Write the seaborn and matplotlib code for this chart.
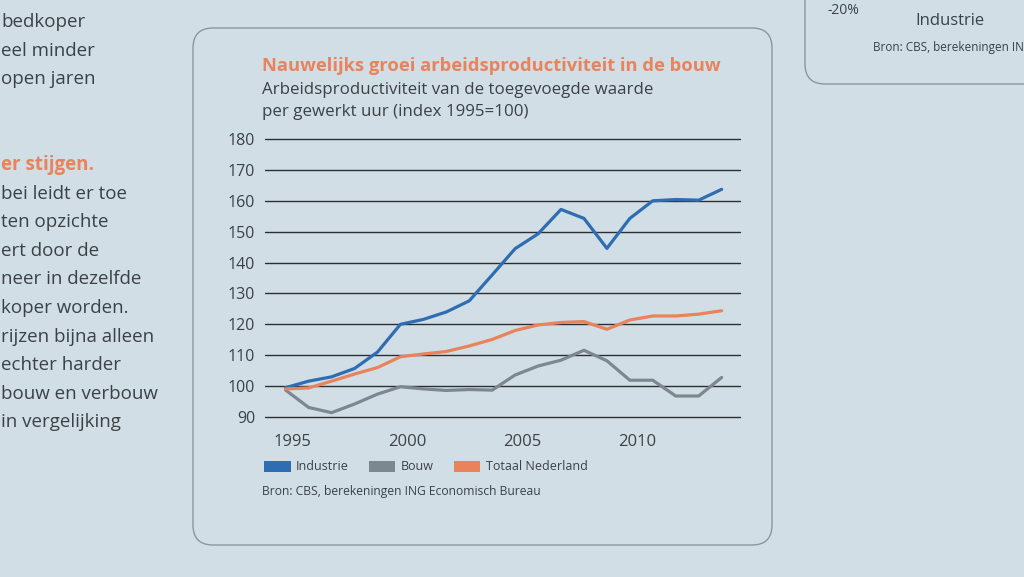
import pandas as pd
import matplotlib.pyplot as plt
import seaborn as sns
from matplotlib.patches import FancyBboxPatch, Patch
from matplotlib.transforms import ScaledTranslation
# ========================================================================================================================================
years = list(range(1995, 2015))
industrie = [99.5, 101.6, 103.0, 105.7, 111.0, 120.0, 121.6, 124.0, 127.6, 136.0,
             144.5, 149.3, 157.2, 154.3, 144.6, 154.3, 160.0, 160.4, 160.2, 163.7]
bouw = [98.7, 93.1, 91.4, 94.2, 97.4, 99.8, 99.1, 98.6, 98.9, 98.7,
        103.6, 106.5, 108.4, 111.6, 108.2, 101.9, 101.9, 96.8, 96.8, 102.8]
totaal = [99.1, 99.4, 101.6, 103.9, 106.0, 109.5, 110.4, 111.2, 113.0, 115.1,
          118.0, 119.8, 120.6, 120.9, 118.4, 121.4, 122.7, 122.7, 123.3, 124.4]
series_names = ["Industrie", "Bouw", "Totaal Nederland"]
x_ticks = [1995, 2000, 2005, 2010]
y_ticks = list(range(90, 181, 10))

left_lines = ["bedkoper", "eel minder", "open jaren", "", "", "er stijgen.", "bei leidt er toe",
              "ten opzichte", "ert door de", "neer in dezelfde", "koper worden.",
              "rijzen bijna alleen", "echter harder", "bouw en verbouw", "in vergelijking"]
# ========================================================================================================================================
df = pd.DataFrame({"jaar": years * 3,
                   "index": industrie + bouw + totaal,
                   "reeks": [series_names[0]] * 20 + [series_names[1]] * 20 + [series_names[2]] * 20})

BG = "#d1dee6"
INK = "#3b4146"
colors = {"Industrie": "#2f6db3", "Bouw": "#7d888e", "Totaal Nederland": "#e8835b"}

sns.set_style("white")
plt.rcParams['font.family'] = ['Open Sans', 'DejaVu Sans']

fig = plt.figure(figsize=(10.24, 5.77), dpi=100)
fig.patch.set_facecolor(BG)


def px(x, y):
    # pixel coords (top-left origin) -> inches
    return x / 100, (577 - y) / 100


# chart box
x0, y0 = px(193, 545)
box = FancyBboxPatch((x0 + 0.2, y0 + 0.2), (772 - 193) / 100 - 0.4, (545 - 28) / 100 - 0.4,
                     boxstyle="round,pad=0.2", transform=fig.dpi_scale_trans,
                     facecolor="none", edgecolor="#8a979e", linewidth=1.0)
fig.add_artist(box)

# piece of neighbouring box top right
x1, y1 = px(805, 84)
box2 = FancyBboxPatch((x1 + 0.2, y1 + 0.2), 3.0, 1.5, boxstyle="round,pad=0.2",
                      transform=fig.dpi_scale_trans, facecolor="none", edgecolor="#8a979e", linewidth=1.0)
fig.add_artist(box2)
fig.text(*px(950, 21), "Industrie", transform=fig.dpi_scale_trans, ha="center", va="center",
         fontsize=12, color=INK)
fig.text(*px(873, 47), "Bron: CBS, berekeningen IN", transform=fig.dpi_scale_trans, ha="left",
         va="center", fontsize=8.5, color=INK)
fig.text(*px(828, 3), "-20%", transform=fig.dpi_scale_trans, ha="left", va="top",
         fontsize=10, color=INK)

# left column text
for i, line in enumerate(left_lines):
    if not line:
        continue
    orange = line == "er stijgen."
    fig.text(*px(1, 22 + i * 28.6), line, transform=fig.dpi_scale_trans, ha="left", va="center",
             fontsize=13.5, color="#e8835b" if orange else INK,
             fontweight="bold" if orange else "normal")

# titles
fig.text(*px(262, 66), "Nauwelijks groei arbeidsproductiviteit in de bouw", transform=fig.dpi_scale_trans,
         ha="left", va="center", fontsize=13.2, fontweight="bold", color="#e8835b")
fig.text(*px(262, 90), "Arbeidsproductiviteit van de toegevoegde waarde", transform=fig.dpi_scale_trans,
         ha="left", va="center", fontsize=12.2, color=INK)
fig.text(*px(262, 112), "per gewerkt uur (index 1995=100)", transform=fig.dpi_scale_trans,
         ha="left", va="center", fontsize=12.2, color=INK)

ax = fig.add_axes([265 / 1024, (577 - 417) / 577, (740 - 265) / 1024, (417 - 139) / 577])
ax.set_facecolor("none")

sns.lineplot(data=df, x="jaar", y="index", hue="reeks", hue_order=series_names,
             palette=colors, linewidth=2.3, ax=ax, legend=False)

ax.set_xlim(1994.1, 2014.8)
ax.set_ylim(90, 180)
ax.set_yticks(y_ticks)
ax.set_xticks(x_ticks)
ax.set_xlabel("")
ax.set_ylabel("")
for yv in y_ticks:
    ax.axhline(yv, color="#2b2f33", linewidth=1.0, zorder=0, clip_on=False)
sns.despine(ax=ax, left=True, bottom=True)
ax.tick_params(axis="y", length=0, pad=7, labelsize=11.5, labelcolor=INK)
ax.tick_params(axis="x", length=0, pad=12, labelsize=12, labelcolor=INK)
for lab in ax.get_xticklabels():
    lab.set_transform(lab.get_transform() + ScaledTranslation(0.07, 0, fig.dpi_scale_trans))

# legend
handles = [Patch(facecolor=colors[n], edgecolor="none") for n in series_names]
fig.legend(handles, series_names, loc="center left", bbox_to_anchor=(253 / 1024, (577 - 467) / 577),
           ncol=3, frameon=False, fontsize=9, handlelength=2.1, handleheight=1.0,
           columnspacing=1.6, handletextpad=0.45, labelcolor=INK)

fig.text(*px(262, 492), "Bron: CBS, berekeningen ING Economisch Bureau", transform=fig.dpi_scale_trans,
         ha="left", va="center", fontsize=8.7, color=INK)

plt.savefig("out.png", dpi=100, facecolor=BG)
